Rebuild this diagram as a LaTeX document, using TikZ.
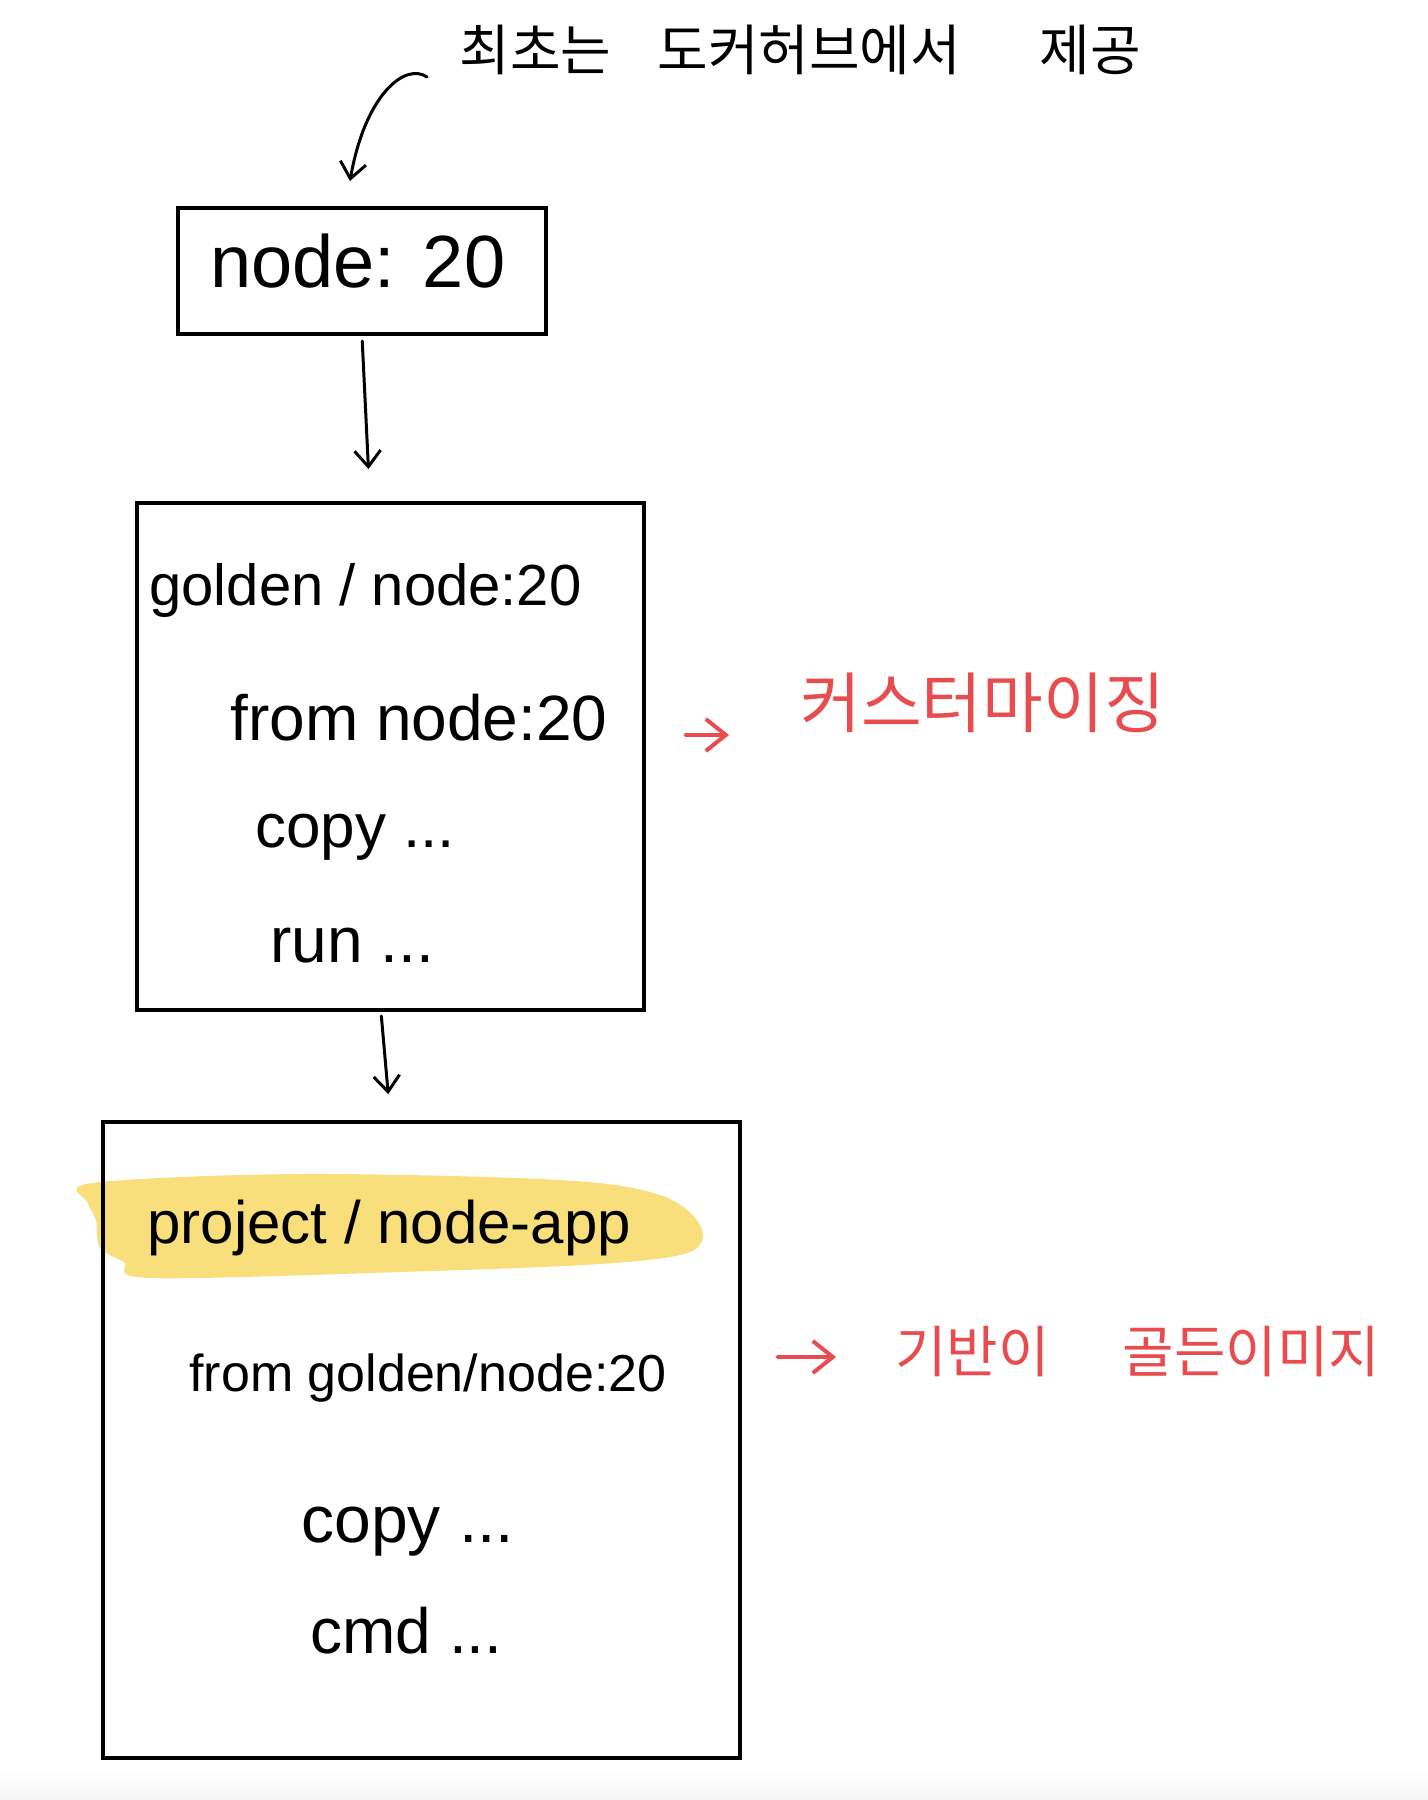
\documentclass[tikz,border=0pt]{standalone}
\usepackage{fontspec}
\setmainfont{Liberation Sans}
\newfontfamily\kr{Noto Sans CJK KR}
\usetikzlibrary{arrows.meta,calc}
\definecolor{hlyellow}{RGB}{248,220,110}
\definecolor{penred}{RGB}{232,76,78}
\tikzset{
 box/.style={draw=black,line width=2pt,rectangle,inner sep=0pt},
 hand/.style={anchor=base west,inner sep=0pt,text=black},
 arr/.style={line width=1.5pt,line cap=round,-{Straight Barb[length=8pt,width=13pt,line width=1.5pt]}},
 redarr/.style={draw=penred,line width=2pt,line cap=round,-{Straight Barb[length=10pt,width=16pt,line width=2pt]}},
 note/.style={anchor=west,inner sep=0pt,text=penred},
}
\begin{document}
\begin{tikzpicture}[x=0.5pt,y=-0.5pt]
\useasboundingbox (0,0) rectangle (1428,1800);
\fill[white] (0,0) rectangle (1428,1800);
\shade[top color=white,bottom color=black!4] (0,1770) rectangle (1428,1800);
% yellow highlight
\fill[hlyellow,opacity=0.9] plot[smooth cycle,tension=0.55] coordinates {(92,1183) (300,1174) (560,1180) (660,1195) (700,1225) (690,1252) (600,1264) (400,1272) (150,1278) (124,1262) (100,1248) (96,1220) (88,1203)};
% boxes
\node[box,minimum width=184pt,minimum height=63pt] (b1) at (362,271) {};
\node[box,minimum width=253.5pt,minimum height=253.5pt] (b2) at (390.5,756.5) {};
\node[box,minimum width=318.5pt,minimum height=318pt] (b3) at (421.5,1440) {};
% top note
\node[anchor=west,inner sep=0pt,font=\kr\fontsize{27.5}{32}\selectfont] (top) at (459,50) {최초는 \hspace{17pt}도커허브에서 \hspace{33pt}제공};
\coordinate (cs) at (427,77);
\coordinate (ce) at (350,181);
\draw[arr] (cs) .. controls (405,62) and (365,95) .. (ce);
% box texts
\node[hand,font=\fontsize{37}{40}\selectfont] (t1) at (210,287) {node: 20};
\node[hand,font=\fontsize{29}{32}\selectfont] (t2a) at (149,605) {golden / node:20};
\node[hand,font=\fontsize{32}{36}\selectfont] (t2b) at (230,740) {from node:20};
\node[hand,font=\fontsize{31}{36}\selectfont] (t2c) at (255,847) {copy ...};
\node[hand,font=\fontsize{32}{36}\selectfont] (t2d) at (270,962) {run ...};
\node[hand,font=\fontsize{30}{34}\selectfont] (t3a) at (147,1243) {project / node-app};
\node[hand,font=\fontsize{26}{30}\selectfont] (t3b) at (189,1391) {from golden/node:20};
\node[hand,font=\fontsize{33}{36}\selectfont] (t3c) at (301,1542) {copy ...};
\node[hand,font=\fontsize{32}{36}\selectfont] (t3d) at (310,1653) {cmd ...};
% connectors between boxes
\draw[arr,shorten >=16pt,shorten <=2.5pt] (b1.south) -- ([xshift=4pt]b1.south |- b2.north);
\draw[arr,shorten >=13pt,shorten <=2pt] ([xshift=-4.75pt]b2.south) -- (b2.south |- b3.north);
% red notes
\node[note,font=\kr\fontsize{33}{38}\selectfont] (n1) at (800,703) {커스터마이징};
\node[note,font=\kr\fontsize{28}{32}\selectfont] (n2) at (895,1352) {기반이 \hspace{30pt}골든이미지};
\coordinate (r1s) at (686,735);
\coordinate (r1e) at (729,735);
\coordinate (r2s) at (778,1357);
\coordinate (r2e) at (836,1357);
\draw[redarr] (r1s) -- (r1e);
\draw[redarr] (r2s) -- (r2e);
\end{tikzpicture}
\end{document}
